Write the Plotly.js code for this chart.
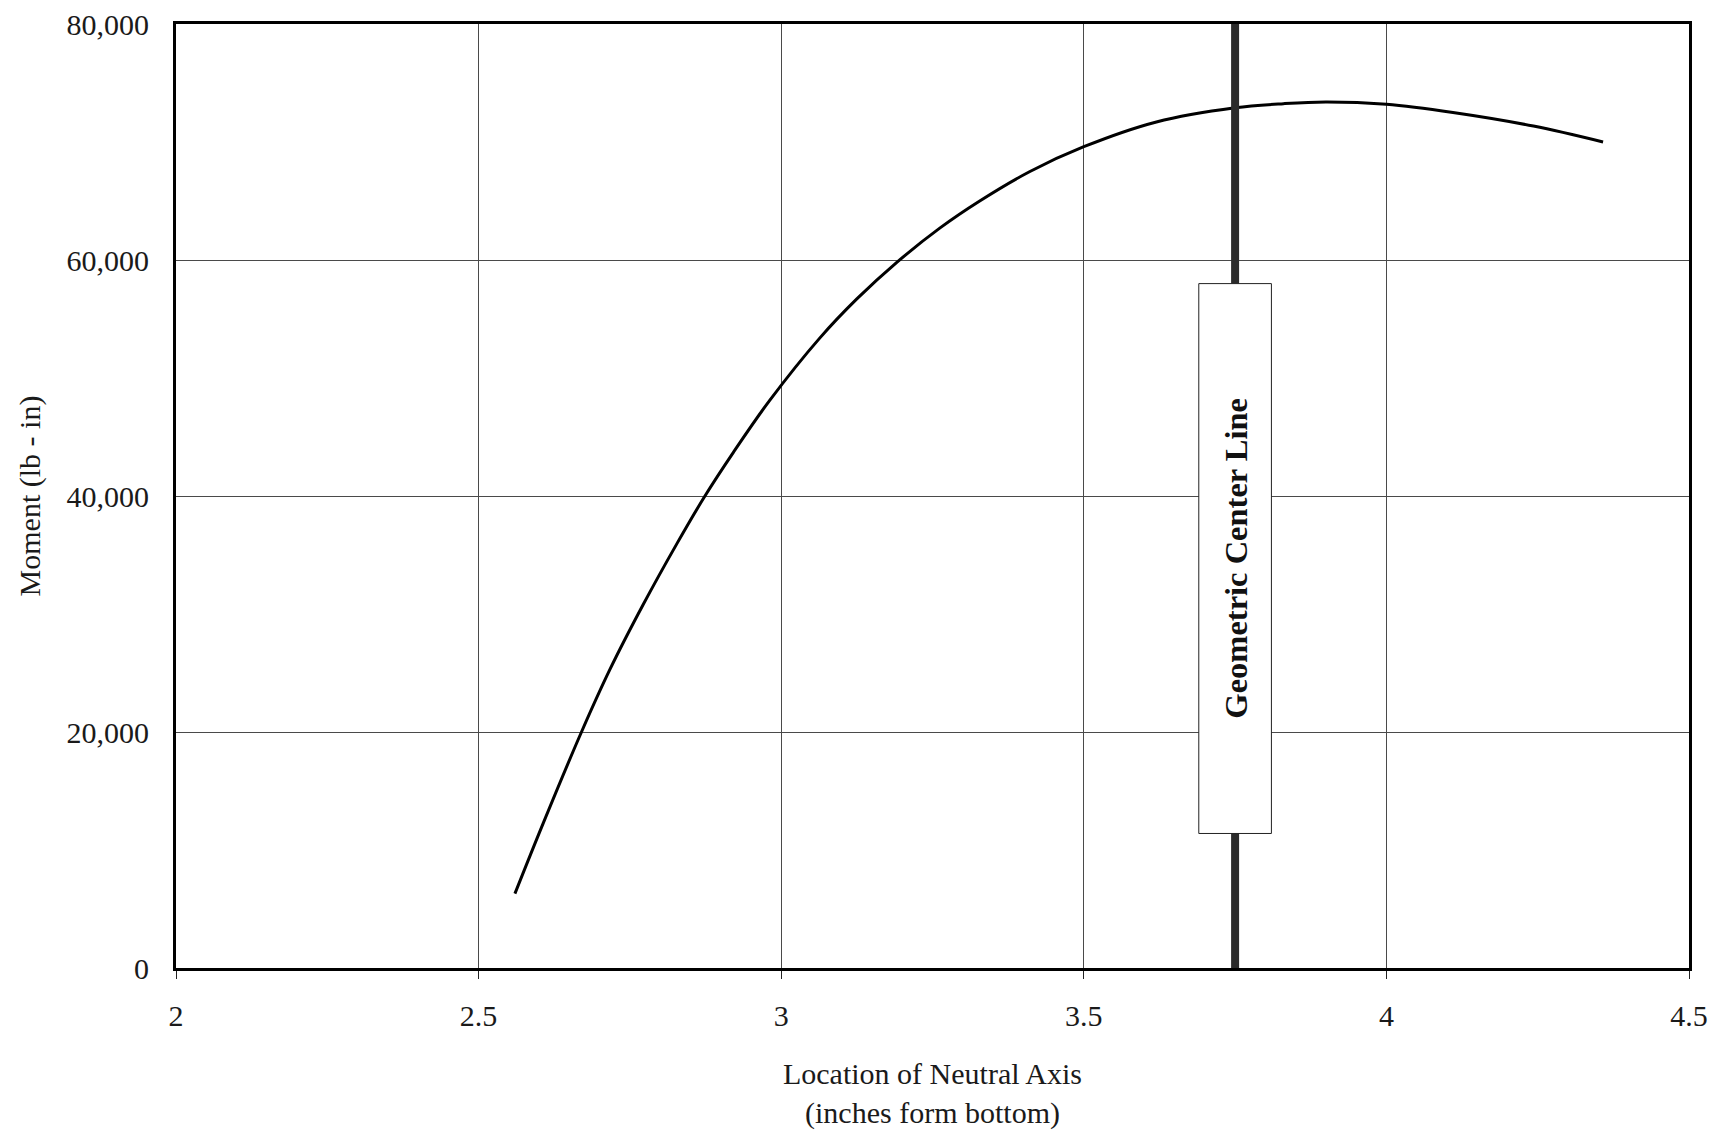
<!DOCTYPE html>
<html>
<head>
<meta charset="utf-8">
<script src="https://cdn.plot.ly/plotly-3.0.1.min.js"></script>
<style>
  html, body { margin: 0; padding: 0; background: #fff; }
  #chart { width: 1711px; height: 1134px; }
</style>
</head>
<body>
<div id="chart"></div>
<script>
// Neutral axis location (in from bottom) vs. moment capacity (lb-in)
const neutralAxis = [2.56, 2.607, 2.67, 2.717, 2.772, 2.827, 2.874, 2.921, 2.981,
  3.064, 3.125, 3.191, 3.262, 3.328, 3.411, 3.5, 3.62, 3.75, 3.83, 3.9,
  4.0, 4.11, 4.243, 4.358];
const moment = [6300, 12300, 20000, 25300, 30800, 35900, 40000, 43700, 48100,
  53400, 56700, 59800, 62700, 65000, 67500, 69600, 71700, 72900, 73250, 73400,
  73200, 72500, 71350, 70000];

// Geometric center of the section
const geometricCenter = 3.75;
const centerLineSpan = [0, 80000];
const centerLabel = "Geometric Center Line";

const xTicks = [2, 2.5, 3, 3.5, 4, 4.5];
const xTickText = ["2", "2.5", "3", "3.5", "4", "4.5"];
const yTicks = [0, 20000, 40000, 60000, 80000];
const yTickText = ["0", "20,000", "40,000", "60,000", "80,000"];

const serif = "Liberation Serif, Times New Roman, serif";

const traces = [
  {
    x: neutralAxis,
    y: moment,
    type: "scatter",
    mode: "lines",
    line: { color: "#000", width: 3, shape: "spline", smoothing: 1 },
    hoverinfo: "x+y"
  },
  {
    x: [geometricCenter, geometricCenter],
    y: centerLineSpan,
    type: "scatter",
    mode: "lines",
    line: { color: "#2b2b2b", width: 8 },
    hoverinfo: "skip"
  }
];

const layout = {
  width: 1711,
  height: 1134,
  margin: { l: 176, r: 22, t: 24, b: 166 },
  paper_bgcolor: "#fff",
  plot_bgcolor: "#fff",
  showlegend: false,
  font: { family: serif, size: 30, color: "#1a1a1a" },
  xaxis: {
    range: [2, 4.5],
    tickmode: "array",
    tickvals: xTicks,
    ticktext: xTickText,
    ticks: "outside",
    ticklen: 8,
    tickwidth: 1,
    tickcolor: "#222",
    ticklabelstandoff: 11,
    showgrid: true,
    gridcolor: "#4a4a4a",
    gridwidth: 1,
    zeroline: false,
    showline: true,
    linecolor: "#000",
    linewidth: 3,
    mirror: true,
    tickfont: { family: serif, size: 30, color: "#1a1a1a" },
    title: {
      text: "Location of Neutral Axis<br>(inches form bottom)",
      font: { family: serif, size: 30, color: "#1a1a1a" },
      standoff: 32
    }
  },
  yaxis: {
    range: [0, 80000],
    tickmode: "array",
    tickvals: yTicks,
    ticktext: yTickText,
    ticks: "",
    ticklabelstandoff: 18,
    showgrid: true,
    gridcolor: "#4a4a4a",
    gridwidth: 1,
    zeroline: false,
    showline: true,
    linecolor: "#000",
    linewidth: 3,
    mirror: true,
    tickfont: { family: serif, size: 30, color: "#1a1a1a" },
    title: {
      text: "Moment (lb - in)",
      font: { family: serif, size: 30, color: "#1a1a1a" },
      standoff: 18
    }
  },
  shapes: [
    {
      type: "rect",
      xref: "x", yref: "y",
      x0: 3.69, x1: 3.81,
      y0: 11400, y1: 58000,
      fillcolor: "#fff",
      line: { color: "#222", width: 1 },
      layer: "above"
    }
  ],
  annotations: [
    {
      x: geometricCenter,
      y: 34700,
      xref: "x", yref: "y",
      text: "<b>" + centerLabel + "</b>",
      textangle: -90,
      showarrow: false,
      font: { family: serif, size: 32.5, color: "#111" }
    }
  ]
};

Plotly.newPlot("chart", traces, layout, { displayModeBar: false, staticPlot: true });
</script>
</body>
</html>
